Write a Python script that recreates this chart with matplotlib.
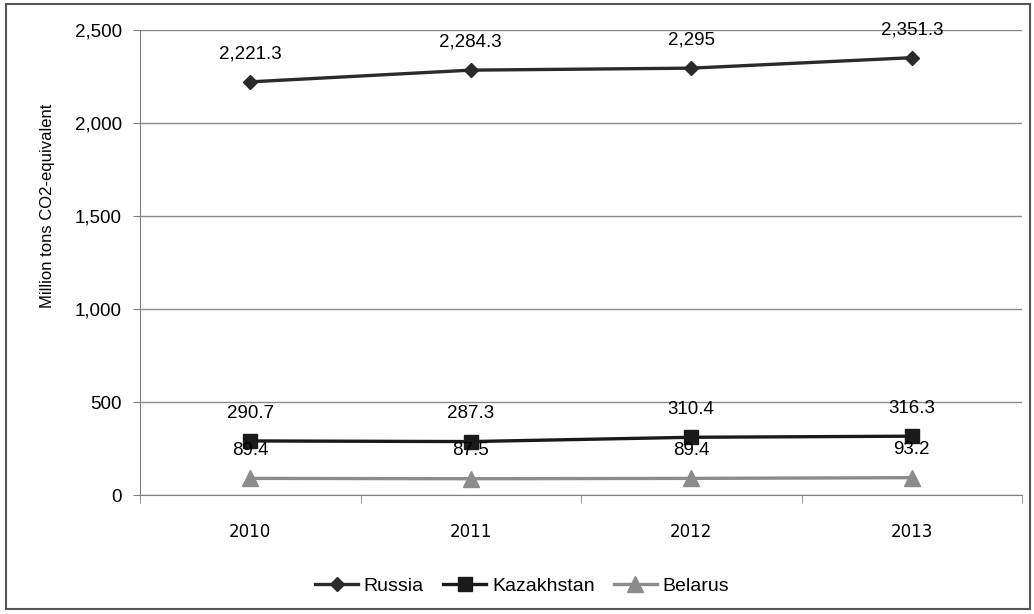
import matplotlib.pyplot as plt
from matplotlib.patches import Rectangle

plt.rcParams['font.family'] = ['Liberation Sans', 'DejaVu Sans']

years = ["2010", "2011", "2012", "2013"]
russia = [2221.3, 2284.3, 2295, 2351.3]
kazakhstan = [290.7, 287.3, 310.4, 316.3]
belarus = [89.4, 87.5, 89.4, 93.2]
russia_labels = ["2,221.3", "2,284.3", "2,295", "2,351.3"]
kaz_labels = ["290.7", "287.3", "310.4", "316.3"]
bel_labels = ["89.4", "87.5", "89.4", "93.2"]

fig = plt.figure(figsize=(10.34, 6.14), dpi=100)
ax = fig.add_axes([0.1354, 0.1938, 0.8530, 0.7573])

x = list(range(len(years)))
ax.plot(x, russia, color="#2a2a2a", lw=2.4, marker="D", ms=7.5, label="Russia")
ax.plot(x, kazakhstan, color="#1a1a1a", lw=2.4, marker="s", ms=10, label="Kazakhstan")
ax.plot(x, belarus, color="#8c8c8c", lw=2.4, marker="^", ms=11, label="Belarus")

# data labels sit ~27px above each point
for series, labels in [(russia, russia_labels), (kazakhstan, kaz_labels), (belarus, bel_labels)]:
    for xi, v, s in zip(x, series, labels):
        ax.annotate(s, (xi, v), xytext=(0, 20), textcoords="offset points",
                    ha="center", va="center", fontsize=13.5)

ax.set_xlim(-0.5, 3.5)
ax.set_ylim(0, 2500)
ax.set_yticks(range(0, 2501, 500))
ax.set_yticklabels(["0", "500", "1,000", "1,500", "2,000", "2,500"], fontsize=13.5)
ax.set_xticks(x)
ax.set_xticklabels(years, fontsize=12, family=["DejaVu Sans"])
ax.set_xticks([-0.5, 0.5, 1.5, 2.5, 3.5], minor=True)
ax.tick_params(axis="x", which="major", length=0, pad=20)
ax.tick_params(axis="x", which="minor", length=6, color="#808080")
ax.tick_params(axis="y", length=5, color="#808080", pad=8)
ax.grid(axis="y", color="#8a8a8a", lw=1)
ax.set_axisbelow(True)
for side in ["top", "right"]:
    ax.spines[side].set_visible(False)
for side in ["left", "bottom"]:
    ax.spines[side].set_color("#808080")

fig.text(48 / 1034, 1 - 206 / 614, "Million tons CO2-equivalent", rotation=90,
         ha="center", va="center", fontsize=12)

fig.legend(loc="center", bbox_to_anchor=(0.505, 0.046), ncol=3, frameon=False,
           fontsize=14, handlelength=2.2, columnspacing=1.0, handletextpad=0.3)

fig.patches.append(Rectangle((0.006, 0.008), 0.99, 0.985, transform=fig.transFigure,
                             fill=False, edgecolor="#555555", lw=1.5))

fig.savefig("out.png", dpi=100)
